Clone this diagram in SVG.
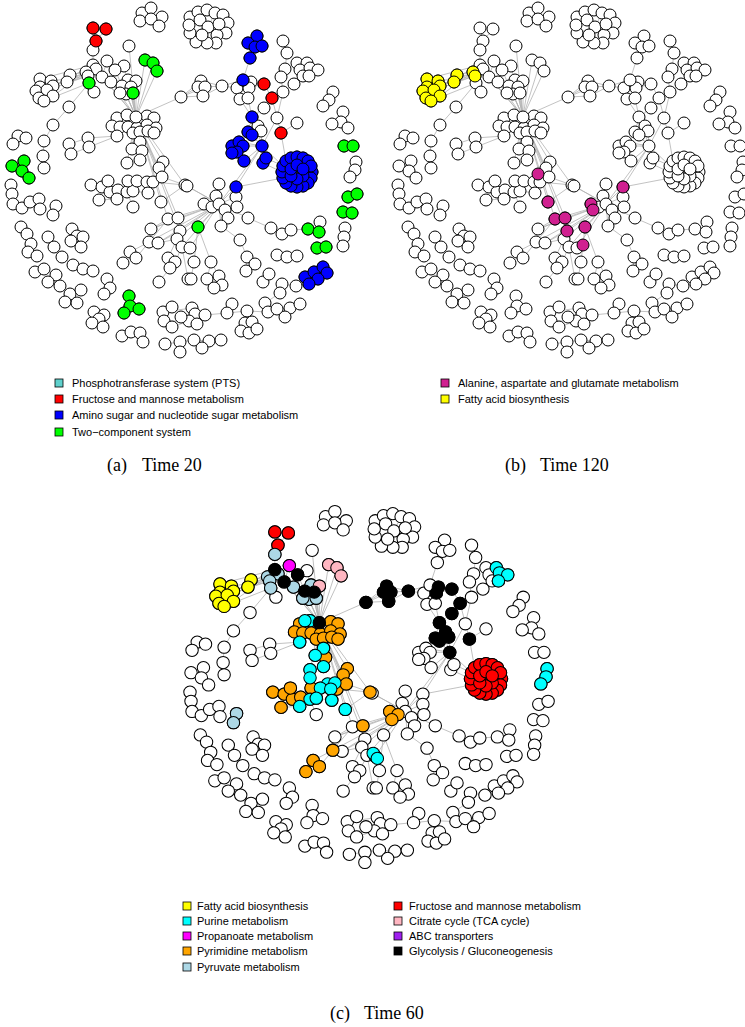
<svg xmlns="http://www.w3.org/2000/svg" width="745" height="1027" viewBox="0 0 745 1027">
<style>
.lg{font-family:"Liberation Sans",Arial,sans-serif;font-size:11px;fill:#000}
.cap{font-family:"Liberation Serif","Times New Roman",serif;font-size:18px;fill:#000}
.sq{stroke:#000;stroke-width:0.8}
.R{fill:#ff0000}.B{fill:#0000ff}.G{fill:#00ff00}.Y{fill:#ffff00}.C{fill:#00ffff}.M{fill:#ff00ff}.O{fill:#ffa500}.L{fill:#add8e6}.P{fill:#ffb6c1}.K{fill:#000000}.V{fill:#d02090}.U{fill:#a020f0}.T{fill:#5fd0cc}
</style>
<defs>
<g id="graph">
<g id="edges" stroke="#b3b3b3" stroke-width="0.8" fill="none">
<path d="M136 117L129 46M136 117L145 60M136 117L153 63M136 117L157 71M136 117L124 66M136 117L115 70M136 117L128 80M136 117L136 81M136 117L131 87M136 117L126 94M136 117L122 86M136 117L133 93M136 117L181 97M136 117L93 65M136 117L102 77M136 117L111 82M136 117L142 151M136 117L163 162M136 117L159 168M136 117L140 160M136 117L127 163M136 117L132 149M136 117L162 177M136 117L185 185M136 117L168 219M136 117L178 218M136 117L180 231M136 117L161 202"/>
<path d="M53 86L86 72M53 86L93 65M51 81L88 76M53 96L86 72M47 90L88 76M53 86L96 69M70 75L86 72M67 82L88 76M70 75L67 82M44 101L89 83M40 79L93 65"/>
<path d="M93 28L96 41M106 29L96 41M96 41L93 50M93 50L93 65M107 61L102 77M89 83L69 107M69 107L53 125M53 125L44 141M44 141L43 156M43 156L44 168M18 136L26 138M13 144L18 136M88 138L117 136M89 147L117 136M69 144L88 138M71 154L89 147M12 166L24 161M24 161L22 171M22 171L29 178"/>
<path d="M181 97L201 81M181 97L198 87M181 97L205 87M181 97L203 96M201 81L222 86M205 87L222 86M203 96L222 86M222 86L243 80M222 86L237 88"/>
<path d="M142 13L151 19M151 8L151 19M162 17L151 19M140 21L151 19M159 26L151 19M208 27L200 20M208 27L219 24M208 27L202 35M208 27L217 35M208 27L198 12M208 27L215 13M208 27L190 33"/>
<path d="M257 36L255 47M248 43L255 47M262 46L255 47M255 47L250 58M250 58L243 80M243 80L237 88M243 80L251 82M243 80L249 88M243 80L240 99M243 80L248 98M251 82L264 84M249 88L264 84M264 84L272 98M272 98L264 108M272 98L281 133M240 99L252 117M248 98L252 117M264 108L252 117M252 117L248 132M252 117L258 126M252 117L262 146M261 131L262 146M248 132L262 146M252 135L262 146M283 92L277 118M277 118L262 146M297 123L281 133M281 133L286 161M283 41L287 53M287 53L297 63M287 53L285 69M285 69L281 77M281 77L283 92M283 92L294 84M294 84L303 76M297 63L307 63M300 70L310 68M310 68L318 70"/>
<path d="M262 146L283 166M262 146L243 146M239 142L262 146M244 161L262 146M266 158L283 166M263 163L282 172M262 146L219 204M262 146L236 187M236 187L283 178M236 187L219 204M297 172L303 176M297 172L297 179M297 172L291 176M297 172L291 169M297 172L297 165M297 172L303 169M297 172L312 172M297 172L297 187M297 172L282 172M297 172L297 157"/>
<path d="M219 204L187 186M219 204L219 184M219 204L236 197M219 204L237 207M219 204L228 218M219 204L221 226M219 204L204 204M219 204L212 207M219 204L225 210M219 204L198 227M219 204L180 231M219 204L168 219M219 204L178 218M219 204L185 185M219 204L151 229M219 204L149 242M219 204L158 243M219 204L177 239M219 204L182 247M219 204L190 248M219 204L216 196M219 204L248 218"/>
<path d="M248 218L271 228M271 228L282 234M282 234L291 230M291 230L308 229M308 229L319 232M319 232L320 222M221 226L240 240M240 240L247 257M247 257L255 264M247 257L246 271M198 227L194 262M198 227L211 262M194 262L191 279M211 262L207 279M211 262L219 276M219 276L222 285M222 285L214 288M263 282L269 274"/>
<path d="M296 286L309 284M282 284L296 286M282 284L280 293M280 293L265 303M265 303L268 312M268 312L247 311M247 311L227 313M227 313L232 304M227 313L205 315M205 315L195 314M195 314L192 308M195 314L189 321M189 321L197 324M163 312L192 308M164 321L189 321M172 327L189 321M163 312L172 307M268 312L277 309M277 309L290 308M290 308L300 304M290 308L285 317M245 323L252 322M241 331L245 323M249 333L252 322M257 329L252 322M180 342L194 340M194 340L209 341M209 341L221 340M194 340L202 348M165 344L180 342M180 342L180 352"/>
<path d="M277 255L287 257M287 257L297 256M343 212L352 213M348 197L357 194M345 228L344 237M344 237L343 246M317 248L326 247M333 92L329 100M329 100L323 106M343 112L341 122M341 122L332 124M341 122L348 128M344 146L353 146M356 162L355 170M355 170L350 177"/>
<path d="M11 185L12 194M12 194L13 204M13 204L22 208M22 208L30 202M30 202L39 199M39 199L40 209M56 206L53 215M21 227L27 234M27 234L31 244M31 244L28 252M28 252L37 256M35 272L44 269M44 269L56 275M56 275L48 282M48 282L60 286M60 286L70 294M70 294L81 290M70 294L65 302M65 302L77 303M48 237L54 247M54 247L62 257M62 257L73 265M73 265L83 269M83 269L93 271M72 229L77 236M77 236L83 237M77 236L71 241M77 236L81 247M107 279L110 288M110 288L104 294M129 296L130 306M130 306L139 309M130 306L124 313M94 312L99 319M104 315L99 319M99 319L92 323M99 319L103 327M122 336L131 332M131 332L140 333M140 333L143 342"/>
<path d="M151 229L168 219M151 229L178 218M149 242L168 219M149 242L136 258M130 252L149 242M158 243L180 231M158 243L177 239M168 258L177 239M175 262L182 247M170 268L175 262M159 282L170 268M188 279L182 247M185 185L162 177M185 185L153 182M161 202L185 185M99 200L117 199M108 181L118 190M102 187L110 192M127 192L133 191M133 191L148 193M133 207L127 192"/>
</g>
<g id="nodes" fill="#fff" stroke="#000" stroke-width="1">
<g id="n1"><circle cx="142" cy="13" r="6"/></g><g id="n2"><circle cx="151" cy="8" r="6"/></g><g id="n3"><circle cx="162" cy="17" r="6"/></g><g id="n4"><circle cx="140" cy="21" r="6"/></g><g id="n5"><circle cx="151" cy="19" r="6"/></g><g id="n6"><circle cx="159" cy="26" r="6"/></g>
<g id="n7"><circle cx="93" cy="28" r="6"/></g><g id="n8"><circle cx="106" cy="29" r="6"/></g><g id="n9"><circle cx="96" cy="41" r="6"/></g><g id="n10"><circle cx="93" cy="50" r="6"/></g><g id="n11"><circle cx="129" cy="46" r="6"/></g><g id="n12"><circle cx="107" cy="61" r="6"/></g><g id="n13"><circle cx="124" cy="66" r="6"/></g><g id="n14"><circle cx="115" cy="70" r="6"/></g>
<g id="n15"><circle cx="145" cy="60" r="6"/></g><g id="n16"><circle cx="153" cy="63" r="6"/></g><g id="n17"><circle cx="157" cy="71" r="6"/></g>
<g id="n18"><circle cx="93" cy="65" r="6"/></g><g id="n19"><circle cx="96" cy="69" r="6"/></g><g id="n20"><circle cx="86" cy="72" r="6"/></g><g id="n21"><circle cx="88" cy="76" r="6"/></g><g id="n22"><circle cx="102" cy="77" r="6"/></g><g id="n23"><circle cx="89" cy="83" r="6"/></g><g id="n24"><circle cx="94" cy="92" r="6"/></g><g id="n25"><circle cx="111" cy="82" r="6"/></g>
<g id="n26"><circle cx="70" cy="75" r="6"/></g><g id="n27"><circle cx="67" cy="82" r="6"/></g>
<g id="lc">
<g id="n28"><circle cx="40" cy="79" r="6"/></g><g id="n29"><circle cx="51" cy="81" r="6"/></g><g id="n30"><circle cx="53" cy="86" r="6"/></g><g id="n31"><circle cx="40" cy="87" r="6"/></g><g id="n32"><circle cx="36" cy="91" r="6"/></g><g id="n33"><circle cx="47" cy="90" r="6"/></g><g id="n34"><circle cx="53" cy="96" r="6"/></g><g id="n35"><circle cx="39" cy="98" r="6"/></g><g id="n36"><circle cx="44" cy="101" r="6"/></g>
</g>
<g id="n37"><circle cx="128" cy="80" r="6"/></g><g id="n38"><circle cx="136" cy="81" r="6"/></g><g id="n39"><circle cx="122" cy="86" r="6"/></g><g id="n40"><circle cx="131" cy="87" r="6"/></g><g id="n41"><circle cx="126" cy="94" r="6"/></g><g id="n42"><circle cx="120" cy="93" r="6"/></g><g id="n43"><circle cx="133" cy="93" r="6"/></g>
<g id="n44"><circle cx="181" cy="97" r="6"/></g>
<g id="n45"><circle cx="69" cy="107" r="6"/></g><g id="n46"><circle cx="53" cy="125" r="6"/></g><g id="n47"><circle cx="44" cy="141" r="6"/></g><g id="n48"><circle cx="43" cy="156" r="6"/></g><g id="n49"><circle cx="44" cy="168" r="6"/></g>
<g id="n50"><circle cx="18" cy="136" r="6"/></g><g id="n51"><circle cx="26" cy="138" r="6"/></g><g id="n52"><circle cx="13" cy="144" r="6"/></g>
<g id="n53"><circle cx="88" cy="138" r="6"/></g><g id="n54"><circle cx="89" cy="147" r="6"/></g><g id="n55"><circle cx="69" cy="144" r="6"/></g><g id="n56"><circle cx="71" cy="154" r="6"/></g>
<g id="n57"><circle cx="12" cy="166" r="6"/></g><g id="n58"><circle cx="24" cy="161" r="6"/></g><g id="n59"><circle cx="22" cy="171" r="6"/></g><g id="n60"><circle cx="29" cy="178" r="6"/></g>
<g id="n61"><circle cx="117" cy="118" r="6"/></g><g id="n62"><circle cx="127" cy="115" r="6"/></g><g id="n64"><circle cx="147" cy="116" r="6"/></g><g id="n65"><circle cx="154" cy="118" r="6"/></g><g id="n66"><circle cx="112" cy="126" r="6"/></g><g id="n67"><circle cx="120" cy="127" r="6"/></g><g id="n68"><circle cx="128" cy="127" r="6"/></g><g id="n69"><circle cx="137" cy="128" r="6"/></g><g id="n70"><circle cx="147" cy="125" r="6"/></g><g id="n71"><circle cx="156" cy="128" r="6"/></g><g id="n72"><circle cx="117" cy="136" r="6"/></g><g id="n73"><circle cx="133" cy="133" r="6"/></g><g id="n74"><circle cx="140" cy="132" r="6"/></g><g id="n75"><circle cx="148" cy="131" r="6"/></g><g id="n76"><circle cx="154" cy="133" r="6"/></g><g id="n77"><circle cx="140" cy="142" r="6"/></g><g id="n63"><circle cx="136" cy="117" r="6"/></g>
<g id="n78"><circle cx="132" cy="149" r="6"/></g><g id="n79"><circle cx="142" cy="151" r="6"/></g><g id="n80"><circle cx="163" cy="162" r="6"/></g><g id="n81"><circle cx="127" cy="163" r="6"/></g><g id="n82"><circle cx="140" cy="160" r="6"/></g><g id="n83"><circle cx="159" cy="168" r="6"/></g>
<g id="n84"><circle cx="91" cy="185" r="6"/></g><g id="n85"><circle cx="102" cy="187" r="6"/></g><g id="n86"><circle cx="110" cy="192" r="6"/></g><g id="n87"><circle cx="118" cy="190" r="6"/></g><g id="n88"><circle cx="127" cy="192" r="6"/></g><g id="n89"><circle cx="133" cy="191" r="6"/></g><g id="n90"><circle cx="99" cy="200" r="6"/></g><g id="n91"><circle cx="117" cy="199" r="6"/></g><g id="n92"><circle cx="128" cy="181" r="6"/></g><g id="n93"><circle cx="137" cy="181" r="6"/></g><g id="n94"><circle cx="147" cy="182" r="6"/></g><g id="n95"><circle cx="153" cy="182" r="6"/></g><g id="n96"><circle cx="162" cy="177" r="6"/></g><g id="n97"><circle cx="148" cy="193" r="6"/></g><g id="n98"><circle cx="108" cy="181" r="6"/></g><g id="n99"><circle cx="133" cy="207" r="6"/></g><g id="n100"><circle cx="161" cy="202" r="6"/></g>
<g id="n101"><circle cx="168" cy="219" r="6"/></g><g id="n102"><circle cx="178" cy="218" r="6"/></g><g id="n103"><circle cx="185" cy="185" r="6"/></g><g id="n104"><circle cx="151" cy="229" r="6"/></g><g id="n105"><circle cx="180" cy="231" r="6"/></g><g id="n106"><circle cx="177" cy="239" r="6"/></g><g id="n107"><circle cx="149" cy="242" r="6"/></g><g id="n108"><circle cx="158" cy="243" r="6"/></g><g id="n109"><circle cx="182" cy="247" r="6"/></g><g id="n110"><circle cx="190" cy="248" r="6"/></g><g id="n111"><circle cx="130" cy="252" r="6"/></g><g id="n112"><circle cx="136" cy="258" r="6"/></g><g id="n113"><circle cx="123" cy="263" r="6"/></g><g id="n114"><circle cx="168" cy="258" r="6"/></g><g id="n115"><circle cx="175" cy="262" r="6"/></g><g id="n116"><circle cx="170" cy="268" r="6"/></g><g id="n117"><circle cx="159" cy="282" r="6"/></g><g id="n118"><circle cx="188" cy="279" r="6"/></g>
<g id="n119"><circle cx="187" cy="186" r="6"/></g><g id="n120"><circle cx="219" cy="184" r="6"/></g><g id="n121"><circle cx="236" cy="187" r="6"/></g><g id="n122"><circle cx="204" cy="204" r="6"/></g><g id="n123"><circle cx="212" cy="207" r="6"/></g><g id="n125"><circle cx="216" cy="196" r="6"/></g><g id="n124"><circle cx="219" cy="204" r="6"/></g><g id="n126"><circle cx="225" cy="210" r="6"/></g><g id="n127"><circle cx="236" cy="197" r="6"/></g><g id="n128"><circle cx="237" cy="207" r="6"/></g><g id="n129"><circle cx="228" cy="218" r="6"/></g><g id="n130"><circle cx="221" cy="226" r="6"/></g><g id="n131"><circle cx="248" cy="218" r="6"/></g><g id="n132"><circle cx="198" cy="227" r="6"/></g>
<g id="n133"><circle cx="194" cy="262" r="6"/></g><g id="n134"><circle cx="211" cy="262" r="6"/></g><g id="n135"><circle cx="191" cy="279" r="6"/></g><g id="n136"><circle cx="207" cy="279" r="6"/></g><g id="n137"><circle cx="219" cy="276" r="6"/></g><g id="n138"><circle cx="222" cy="285" r="6"/></g><g id="n139"><circle cx="214" cy="288" r="6"/></g>
<g id="n140"><circle cx="240" cy="240" r="6"/></g><g id="n141"><circle cx="247" cy="257" r="6"/></g><g id="n142"><circle cx="255" cy="264" r="6"/></g><g id="n143"><circle cx="246" cy="271" r="6"/></g><g id="n144"><circle cx="263" cy="282" r="6"/></g><g id="n145"><circle cx="269" cy="274" r="6"/></g>
<g id="n146"><circle cx="271" cy="228" r="6"/></g><g id="n147"><circle cx="282" cy="234" r="6"/></g><g id="n148"><circle cx="291" cy="230" r="6"/></g><g id="n149"><circle cx="308" cy="229" r="6"/></g><g id="n150"><circle cx="320" cy="222" r="6"/></g><g id="n151"><circle cx="319" cy="232" r="6"/></g>
<g id="n152"><circle cx="348" cy="197" r="6"/></g><g id="n153"><circle cx="357" cy="194" r="6"/></g><g id="n154"><circle cx="343" cy="212" r="6"/></g><g id="n155"><circle cx="352" cy="213" r="6"/></g><g id="n156"><circle cx="317" cy="248" r="6"/></g><g id="n157"><circle cx="326" cy="247" r="6"/></g><g id="n158"><circle cx="345" cy="228" r="6"/></g><g id="n159"><circle cx="344" cy="237" r="6"/></g><g id="n160"><circle cx="343" cy="246" r="6"/></g>
<g id="n161"><circle cx="277" cy="255" r="6"/></g><g id="n162"><circle cx="287" cy="257" r="6"/></g><g id="n163"><circle cx="297" cy="256" r="6"/></g>
<g id="n164"><circle cx="305" cy="277" r="6"/></g><g id="n165"><circle cx="314" cy="272" r="6"/></g><g id="n166"><circle cx="323" cy="267" r="6"/></g><g id="n167"><circle cx="327" cy="273" r="6"/></g><g id="n168"><circle cx="318" cy="279" r="6"/></g><g id="n169"><circle cx="309" cy="284" r="6"/></g>
<g id="n170"><circle cx="296" cy="286" r="6"/></g><g id="n171"><circle cx="282" cy="284" r="6"/></g><g id="n172"><circle cx="280" cy="293" r="6"/></g><g id="n173"><circle cx="265" cy="303" r="6"/></g><g id="n174"><circle cx="232" cy="304" r="6"/></g><g id="n175"><circle cx="227" cy="313" r="6"/></g><g id="n176"><circle cx="247" cy="311" r="6"/></g><g id="n177"><circle cx="268" cy="312" r="6"/></g><g id="n178"><circle cx="277" cy="309" r="6"/></g><g id="n179"><circle cx="290" cy="308" r="6"/></g><g id="n180"><circle cx="300" cy="304" r="6"/></g><g id="n181"><circle cx="285" cy="317" r="6"/></g>
<g id="n182"><circle cx="245" cy="323" r="6"/></g><g id="n183"><circle cx="252" cy="322" r="6"/></g><g id="n184"><circle cx="241" cy="331" r="6"/></g><g id="n185"><circle cx="249" cy="333" r="6"/></g><g id="n186"><circle cx="257" cy="329" r="6"/></g>
<g id="n187"><circle cx="192" cy="308" r="6"/></g><g id="n188"><circle cx="195" cy="314" r="6"/></g><g id="n189"><circle cx="205" cy="315" r="6"/></g><g id="n190"><circle cx="189" cy="321" r="6"/></g><g id="n191"><circle cx="197" cy="324" r="6"/></g><g id="n192"><circle cx="181" cy="317" r="6"/></g>
<g id="n193"><circle cx="194" cy="340" r="6"/></g><g id="n194"><circle cx="209" cy="341" r="6"/></g><g id="n195"><circle cx="221" cy="340" r="6"/></g><g id="n196"><circle cx="202" cy="348" r="6"/></g><g id="n197"><circle cx="180" cy="342" r="6"/></g>
<g id="n198"><circle cx="11" cy="185" r="6"/></g><g id="n199"><circle cx="12" cy="194" r="6"/></g><g id="n200"><circle cx="13" cy="204" r="6"/></g><g id="n201"><circle cx="22" cy="208" r="6"/></g><g id="n202"><circle cx="30" cy="202" r="6"/></g><g id="n203"><circle cx="39" cy="199" r="6"/></g><g id="n204"><circle cx="40" cy="209" r="6"/></g><g id="n205"><circle cx="56" cy="206" r="6"/></g><g id="n206"><circle cx="53" cy="215" r="6"/></g>
<g id="n207"><circle cx="21" cy="227" r="6"/></g><g id="n208"><circle cx="27" cy="234" r="6"/></g><g id="n209"><circle cx="31" cy="244" r="6"/></g><g id="n210"><circle cx="28" cy="252" r="6"/></g><g id="n211"><circle cx="37" cy="256" r="6"/></g><g id="n212"><circle cx="35" cy="272" r="6"/></g><g id="n213"><circle cx="44" cy="269" r="6"/></g><g id="n214"><circle cx="56" cy="275" r="6"/></g><g id="n215"><circle cx="48" cy="282" r="6"/></g><g id="n216"><circle cx="60" cy="286" r="6"/></g><g id="n217"><circle cx="70" cy="294" r="6"/></g><g id="n218"><circle cx="81" cy="290" r="6"/></g><g id="n219"><circle cx="65" cy="302" r="6"/></g><g id="n220"><circle cx="77" cy="303" r="6"/></g>
<g id="n221"><circle cx="48" cy="237" r="6"/></g><g id="n222"><circle cx="54" cy="247" r="6"/></g><g id="n223"><circle cx="62" cy="257" r="6"/></g><g id="n224"><circle cx="73" cy="265" r="6"/></g><g id="n225"><circle cx="83" cy="269" r="6"/></g><g id="n226"><circle cx="93" cy="271" r="6"/></g>
<g id="n227"><circle cx="72" cy="229" r="6"/></g><g id="n228"><circle cx="77" cy="236" r="6"/></g><g id="n229"><circle cx="83" cy="237" r="6"/></g><g id="n230"><circle cx="71" cy="241" r="6"/></g><g id="n231"><circle cx="81" cy="247" r="6"/></g>
<g id="n232"><circle cx="107" cy="279" r="6"/></g><g id="n233"><circle cx="110" cy="288" r="6"/></g><g id="n234"><circle cx="104" cy="294" r="6"/></g>
<g id="n235"><circle cx="129" cy="296" r="6"/></g><g id="n236"><circle cx="130" cy="306" r="6"/></g><g id="n237"><circle cx="139" cy="309" r="6"/></g><g id="n238"><circle cx="124" cy="313" r="6"/></g>
<g id="n239"><circle cx="94" cy="312" r="6"/></g><g id="n240"><circle cx="104" cy="315" r="6"/></g><g id="n241"><circle cx="99" cy="319" r="6"/></g><g id="n242"><circle cx="92" cy="323" r="6"/></g><g id="n243"><circle cx="103" cy="327" r="6"/></g>
<g id="n244"><circle cx="122" cy="336" r="6"/></g><g id="n245"><circle cx="131" cy="332" r="6"/></g><g id="n246"><circle cx="140" cy="333" r="6"/></g><g id="n247"><circle cx="143" cy="342" r="6"/></g><g id="n248"><circle cx="165" cy="344" r="6"/></g><g id="n249"><circle cx="180" cy="352" r="6"/></g>
<g id="n250"><circle cx="163" cy="312" r="6"/></g><g id="n251"><circle cx="172" cy="307" r="6"/></g><g id="n252"><circle cx="164" cy="321" r="6"/></g><g id="n253"><circle cx="172" cy="327" r="6"/></g>
<g id="n254"><circle cx="283" cy="41" r="6"/></g><g id="n255"><circle cx="287" cy="53" r="6"/></g><g id="n256"><circle cx="297" cy="63" r="6"/></g><g id="n257"><circle cx="307" cy="63" r="6"/></g><g id="n258"><circle cx="300" cy="70" r="6"/></g><g id="n259"><circle cx="310" cy="68" r="6"/></g><g id="n260"><circle cx="318" cy="70" r="6"/></g><g id="n261"><circle cx="303" cy="76" r="6"/></g><g id="n262"><circle cx="309" cy="76" r="6"/></g><g id="n263"><circle cx="285" cy="69" r="6"/></g><g id="n264"><circle cx="281" cy="77" r="6"/></g><g id="n265"><circle cx="294" cy="84" r="6"/></g><g id="n266"><circle cx="283" cy="92" r="6"/></g>
<g id="n267"><circle cx="201" cy="81" r="6"/></g><g id="n268"><circle cx="198" cy="87" r="6"/></g><g id="n269"><circle cx="205" cy="87" r="6"/></g><g id="n270"><circle cx="203" cy="96" r="6"/></g><g id="n271"><circle cx="222" cy="86" r="6"/></g>
<g id="n272"><circle cx="237" cy="88" r="6"/></g><g id="n273"><circle cx="251" cy="82" r="6"/></g><g id="n274"><circle cx="249" cy="88" r="6"/></g><g id="n275"><circle cx="240" cy="99" r="6"/></g><g id="n276"><circle cx="248" cy="98" r="6"/></g><g id="n277"><circle cx="243" cy="80" r="6"/></g>
<g id="n278"><circle cx="264" cy="84" r="6"/></g><g id="n279"><circle cx="272" cy="98" r="6"/></g><g id="n280"><circle cx="264" cy="108" r="6"/></g><g id="n281"><circle cx="252" cy="117" r="6"/></g><g id="n282"><circle cx="277" cy="118" r="6"/></g><g id="n283"><circle cx="297" cy="123" r="6"/></g><g id="n284"><circle cx="258" cy="126" r="6"/></g><g id="n285"><circle cx="261" cy="131" r="6"/></g><g id="n286"><circle cx="248" cy="132" r="6"/></g><g id="n287"><circle cx="252" cy="135" r="6"/></g><g id="n288"><circle cx="281" cy="133" r="6"/></g><g id="n289"><circle cx="262" cy="146" r="6"/></g>
<g id="n290"><circle cx="232" cy="146" r="6"/></g><g id="n291"><circle cx="239" cy="142" r="6"/></g><g id="n292"><circle cx="243" cy="146" r="6"/></g><g id="n293"><circle cx="237" cy="152" r="6"/></g><g id="n294"><circle cx="232" cy="153" r="6"/></g><g id="n295"><circle cx="244" cy="161" r="6"/></g><g id="n296"><circle cx="263" cy="163" r="6"/></g><g id="n297"><circle cx="266" cy="158" r="6"/></g>
<g id="n298"><circle cx="333" cy="92" r="6"/></g><g id="n299"><circle cx="329" cy="100" r="6"/></g><g id="n300"><circle cx="323" cy="106" r="6"/></g><g id="n301"><circle cx="343" cy="112" r="6"/></g><g id="n302"><circle cx="341" cy="122" r="6"/></g><g id="n303"><circle cx="332" cy="124" r="6"/></g><g id="n304"><circle cx="348" cy="128" r="6"/></g>
<g id="n305"><circle cx="344" cy="146" r="6"/></g><g id="n306"><circle cx="353" cy="146" r="6"/></g><g id="n307"><circle cx="356" cy="162" r="6"/></g><g id="n308"><circle cx="355" cy="170" r="6"/></g><g id="n309"><circle cx="350" cy="177" r="6"/></g>
<g id="n310"><circle cx="257" cy="36" r="6"/></g><g id="n311"><circle cx="248" cy="43" r="6"/></g><g id="n312"><circle cx="255" cy="47" r="6"/></g><g id="n313"><circle cx="262" cy="46" r="6"/></g><g id="n314"><circle cx="250" cy="58" r="6"/></g>
<g id="n315"><circle cx="190" cy="17" r="6"/></g><g id="n316"><circle cx="198" cy="12" r="6"/></g><g id="n317"><circle cx="207" cy="10" r="6"/></g><g id="n318"><circle cx="215" cy="13" r="6"/></g><g id="n319"><circle cx="223" cy="15" r="6"/></g><g id="n320"><circle cx="228" cy="23" r="6"/></g><g id="n321"><circle cx="226" cy="33" r="6"/></g><g id="n322"><circle cx="217" cy="35" r="6"/></g><g id="n323"><circle cx="216" cy="43" r="6"/></g><g id="n324"><circle cx="207" cy="43" r="6"/></g><g id="n325"><circle cx="196" cy="42" r="6"/></g><g id="n326"><circle cx="190" cy="33" r="6"/></g><g id="n327"><circle cx="189" cy="25" r="6"/></g><g id="n328"><circle cx="200" cy="20" r="6"/></g><g id="n329"><circle cx="208" cy="27" r="6"/></g><g id="n330"><circle cx="219" cy="24" r="6"/></g><g id="n331"><circle cx="202" cy="35" r="6"/></g>
<g id="ring">
<g id="n332"><circle cx="312" cy="172" r="6"/></g><g id="n333"><circle cx="311" cy="178" r="6"/></g><g id="n334"><circle cx="308" cy="183" r="6"/></g><g id="n335"><circle cx="303" cy="186" r="6"/></g><g id="n336"><circle cx="297" cy="187" r="6"/></g><g id="n337"><circle cx="291" cy="186" r="6"/></g><g id="n338"><circle cx="286" cy="183" r="6"/></g><g id="n339"><circle cx="283" cy="178" r="6"/></g><g id="n340"><circle cx="282" cy="172" r="6"/></g><g id="n341"><circle cx="283" cy="166" r="6"/></g><g id="n342"><circle cx="286" cy="161" r="6"/></g><g id="n343"><circle cx="291" cy="158" r="6"/></g><g id="n344"><circle cx="297" cy="157" r="6"/></g><g id="n345"><circle cx="303" cy="158" r="6"/></g><g id="n346"><circle cx="308" cy="161" r="6"/></g><g id="n347"><circle cx="311" cy="166" r="6"/></g>
<g id="n348"><circle cx="303" cy="176" r="6"/></g><g id="n349"><circle cx="297" cy="179" r="6"/></g><g id="n350"><circle cx="291" cy="176" r="6"/></g><g id="n351"><circle cx="291" cy="169" r="6"/></g><g id="n352"><circle cx="297" cy="165" r="6"/></g><g id="n353"><circle cx="303" cy="169" r="6"/></g>
</g>
</g>
</g>
</defs>

<g id="panel-a">
<use href="#graph"/>
<g id="hl-a" stroke="#000" stroke-width="1">
<use href="#ring" fill="#0000ff"/>
<g class="R"><circle cx="93" cy="28" r="6"/><circle cx="106" cy="29" r="6"/><circle cx="96" cy="41" r="6"/><circle cx="264" cy="84" r="6"/><circle cx="272" cy="98" r="6"/><circle cx="281" cy="133" r="6"/></g>
<g class="B"><circle cx="257" cy="36" r="6"/><circle cx="248" cy="43" r="6"/><circle cx="255" cy="47" r="6"/><circle cx="262" cy="46" r="6"/><circle cx="250" cy="58" r="6"/><circle cx="243" cy="80" r="6"/><circle cx="252" cy="117" r="6"/><circle cx="248" cy="132" r="6"/><circle cx="252" cy="135" r="6"/><circle cx="262" cy="146" r="6"/><circle cx="232" cy="146" r="6"/><circle cx="239" cy="142" r="6"/><circle cx="243" cy="146" r="6"/><circle cx="237" cy="152" r="6"/><circle cx="232" cy="153" r="6"/><circle cx="244" cy="161" r="6"/><circle cx="263" cy="163" r="6"/><circle cx="266" cy="158" r="6"/><circle cx="236" cy="187" r="6"/><circle cx="305" cy="277" r="6"/><circle cx="314" cy="272" r="6"/><circle cx="323" cy="267" r="6"/><circle cx="327" cy="273" r="6"/><circle cx="318" cy="279" r="6"/><circle cx="309" cy="284" r="6"/></g>
<g class="G"><circle cx="145" cy="60" r="6"/><circle cx="153" cy="63" r="6"/><circle cx="157" cy="71" r="6"/><circle cx="89" cy="83" r="6"/><circle cx="133" cy="93" r="6"/><circle cx="12" cy="166" r="6"/><circle cx="24" cy="161" r="6"/><circle cx="22" cy="171" r="6"/><circle cx="29" cy="178" r="6"/><circle cx="198" cy="227" r="6"/><circle cx="344" cy="146" r="6"/><circle cx="353" cy="146" r="6"/><circle cx="348" cy="197" r="6"/><circle cx="357" cy="194" r="6"/><circle cx="343" cy="212" r="6"/><circle cx="352" cy="213" r="6"/><circle cx="308" cy="229" r="6"/><circle cx="319" cy="232" r="6"/><circle cx="317" cy="248" r="6"/><circle cx="326" cy="247" r="6"/><circle cx="129" cy="296" r="6"/><circle cx="130" cy="306" r="6"/><circle cx="139" cy="309" r="6"/><circle cx="124" cy="313" r="6"/></g>
</g>
</g>

<g id="panel-b" transform="translate(387,0)">
<use href="#graph"/>
<g id="hl-b" stroke="#000" stroke-width="1">
<use href="#lc" fill="#ffff00"/>
<g class="Y"><circle cx="70" cy="75" r="6"/><circle cx="67" cy="82" r="6"/><circle cx="86" cy="72" r="6"/><circle cx="88" cy="76" r="6"/></g>
<g class="V"><circle cx="151" cy="174" r="6"/><circle cx="161" cy="202" r="6"/><circle cx="168" cy="219" r="6"/><circle cx="178" cy="218" r="6"/><circle cx="180" cy="231" r="6"/><circle cx="236" cy="187" r="6"/><circle cx="204" cy="204" r="6"/><circle cx="206" cy="210" r="6"/><circle cx="198" cy="227" r="6"/><circle cx="196" cy="245" r="6"/></g>
</g>
</g>

<g id="panel-c" transform="translate(178.6,503.4) scale(1.035,1.02)">
<use href="#graph"/>
<g id="hl-c" stroke="#000" stroke-width="1">
<use href="#ring" fill="#ff0000"/>
<use href="#lc" fill="#ffff00"/>
<g class="R"><circle cx="93" cy="28" r="6"/><circle cx="106" cy="29" r="6"/><circle cx="96" cy="41" r="6"/></g>
<g class="Y"><circle cx="70" cy="75" r="6"/><circle cx="67" cy="82" r="6"/></g>
<g class="L"><circle cx="93" cy="50" r="6"/><circle cx="96" cy="69" r="6"/><circle cx="86" cy="72" r="6"/><circle cx="88" cy="76" r="6"/><circle cx="89" cy="83" r="6"/><circle cx="111" cy="82" r="6"/><circle cx="128" cy="80" r="6"/><circle cx="126" cy="94" r="6"/><circle cx="120" cy="93" r="6"/><circle cx="133" cy="93" r="6"/><circle cx="56" cy="206" r="6"/><circle cx="53" cy="215" r="6"/></g>
<g class="M"><circle cx="107" cy="61" r="6"/></g>
<g class="P"><circle cx="145" cy="60" r="6"/><circle cx="153" cy="63" r="6"/><circle cx="157" cy="71" r="6"/><circle cx="136" cy="81" r="6"/></g>
<g class="O"><circle cx="117" cy="118" r="6"/><circle cx="147" cy="116" r="6"/><circle cx="154" cy="118" r="6"/><circle cx="112" cy="126" r="6"/><circle cx="120" cy="127" r="6"/><circle cx="128" cy="127" r="6"/><circle cx="137" cy="128" r="6"/><circle cx="147" cy="125" r="6"/><circle cx="156" cy="128" r="6"/><circle cx="133" cy="133" r="6"/><circle cx="140" cy="132" r="6"/><circle cx="148" cy="131" r="6"/><circle cx="154" cy="133" r="6"/><circle cx="142" cy="151" r="6"/><circle cx="163" cy="162" r="6"/><circle cx="159" cy="168" r="6"/><circle cx="91" cy="185" r="6"/><circle cx="102" cy="187" r="6"/><circle cx="110" cy="192" r="6"/><circle cx="118" cy="190" r="6"/><circle cx="99" cy="200" r="6"/><circle cx="128" cy="181" r="6"/><circle cx="153" cy="182" r="6"/><circle cx="162" cy="177" r="6"/><circle cx="108" cy="181" r="6"/><circle cx="178" cy="218" r="6"/><circle cx="185" cy="185" r="6"/><circle cx="149" cy="242" r="6"/><circle cx="130" cy="252" r="6"/><circle cx="136" cy="258" r="6"/><circle cx="123" cy="263" r="6"/><circle cx="204" cy="204" r="6"/><circle cx="212" cy="207" r="6"/><circle cx="206" cy="212" r="6"/></g>
<g class="C"><circle cx="127" cy="115" r="6"/><circle cx="122" cy="115" r="6"/><circle cx="117" cy="136" r="6"/><circle cx="140" cy="142" r="6"/><circle cx="132" cy="149" r="6"/><circle cx="127" cy="163" r="6"/><circle cx="140" cy="160" r="6"/><circle cx="127" cy="171" r="6"/><circle cx="144" cy="177" r="6"/><circle cx="151" cy="176" r="6"/><circle cx="137" cy="181" r="6"/><circle cx="147" cy="182" r="6"/><circle cx="127" cy="192" r="6"/><circle cx="133" cy="191" r="6"/><circle cx="117" cy="199" r="6"/><circle cx="148" cy="193" r="6"/><circle cx="161" cy="202" r="6"/><circle cx="190" cy="248" r="6"/><circle cx="188" cy="245" r="6"/><circle cx="192" cy="250" r="6"/><circle cx="307" cy="63" r="6"/><circle cx="310" cy="68" r="6"/><circle cx="318" cy="70" r="6"/><circle cx="309" cy="76" r="6"/><circle cx="356" cy="162" r="6"/><circle cx="355" cy="170" r="6"/><circle cx="350" cy="177" r="6"/></g>
<g class="K"><circle cx="93" cy="65" r="6"/><circle cx="102" cy="77" r="6"/><circle cx="115" cy="70" r="6"/><circle cx="122" cy="86" r="6"/><circle cx="131" cy="87" r="6"/><circle cx="136" cy="117" r="6"/><circle cx="181" cy="97" r="6"/><circle cx="201" cy="81" r="6"/><circle cx="198" cy="87" r="6"/><circle cx="205" cy="87" r="6"/><circle cx="203" cy="96" r="6"/><circle cx="222" cy="86" r="6"/><circle cx="251" cy="82" r="6"/><circle cx="249" cy="88" r="6"/><circle cx="264" cy="84" r="6"/><circle cx="272" cy="98" r="6"/><circle cx="264" cy="108" r="6"/><circle cx="252" cy="117" r="6"/><circle cx="258" cy="126" r="6"/><circle cx="261" cy="131" r="6"/><circle cx="248" cy="132" r="6"/><circle cx="252" cy="135" r="6"/><circle cx="281" cy="133" r="6"/><circle cx="262" cy="146" r="6"/></g>
</g>
</g>

<g id="legend-a">
<rect class="sq T" x="55" y="379" width="8" height="8"/><text class="lg" x="72" y="387">Phosphotransferase system (PTS)</text>
<rect class="sq R" x="55" y="395" width="8" height="8"/><text class="lg" x="72" y="403">Fructose and mannose metabolism</text>
<rect class="sq B" x="55" y="411" width="8" height="8"/><text class="lg" x="72" y="419">Amino sugar and nucleotide sugar metabolism</text>
<rect class="sq G" x="55" y="428" width="8" height="8"/><text class="lg" x="72" y="436">Two−component system</text>
</g>
<g id="legend-b">
<rect class="sq V" x="441" y="379" width="8" height="8"/><text class="lg" x="458" y="387">Alanine, aspartate and glutamate metabolism</text>
<rect class="sq Y" x="441" y="395" width="8" height="8"/><text class="lg" x="458" y="403">Fatty acid biosynthesis</text>
</g>
<g id="legend-c">
<rect class="sq Y" x="183" y="902" width="8" height="8"/><text class="lg" x="197" y="910">Fatty acid biosynthesis</text>
<rect class="sq C" x="183" y="917" width="8" height="8"/><text class="lg" x="197" y="925">Purine metabolism</text>
<rect class="sq M" x="183" y="932" width="8" height="8"/><text class="lg" x="197" y="940">Propanoate metabolism</text>
<rect class="sq O" x="183" y="947" width="8" height="8"/><text class="lg" x="197" y="955">Pyrimidine metabolism</text>
<rect class="sq L" x="183" y="963" width="8" height="8"/><text class="lg" x="197" y="971">Pyruvate metabolism</text>
<rect class="sq R" x="394" y="902" width="8" height="8"/><text class="lg" x="409" y="910">Fructose and mannose metabolism</text>
<rect class="sq P" x="394" y="917" width="8" height="8"/><text class="lg" x="409" y="925">Citrate cycle (TCA cycle)</text>
<rect class="sq U" x="394" y="932" width="8" height="8"/><text class="lg" x="409" y="940">ABC transporters</text>
<rect class="sq K" x="394" y="947" width="8" height="8"/><text class="lg" x="409" y="955">Glycolysis / Gluconeogenesis</text>
</g>
<g id="captions">
<text class="cap" x="107" y="471">(a)</text><text class="cap" x="142" y="471">Time 20</text>
<text class="cap" x="505" y="471">(b)</text><text class="cap" x="540" y="471">Time 120</text>
<text class="cap" x="330" y="1019">(c)</text><text class="cap" x="364" y="1019">Time 60</text>
</g>
</svg>
